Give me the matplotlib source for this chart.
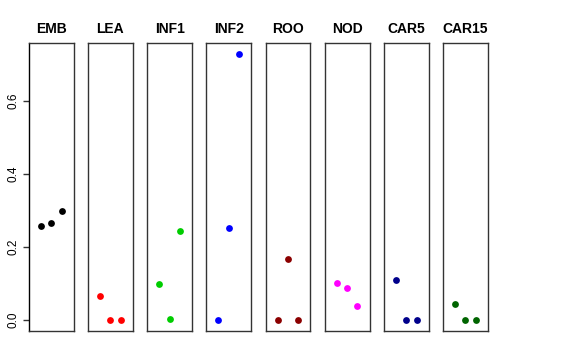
import matplotlib
matplotlib.use("Agg")
import matplotlib.pyplot as plt

plt.rcParams['font.family'] = ['Liberation Sans', 'DejaVu Sans']

tissues = ['EMB', 'LEA', 'INF1', 'INF2', 'ROO', 'NOD', 'CAR5', 'CAR15']
colors = ['black', 'red', '#00CD00', 'blue', '#8B0000', 'magenta', '#00008B', '#006400']
x_pos = [1, 2, 3]

emb = [0.258, 0.265, 0.299]
lea = [0.067, 0.0, 0.0]
inf1 = [0.098, 0.003, 0.243]
inf2 = [0.0, 0.253, 0.729]
roo = [0.0, 0.168, 0.0]
nod = [0.102, 0.088, 0.040]
car5 = [0.111, 0.0, 0.0]
car15 = [0.045, 0.0, 0.0]

values = [emb, lea, inf1, inf2, roo, nod, car5, car15]

fig, axes = plt.subplots(1, 8, figsize=(5.76, 3.6), dpi=100)
fig.subplots_adjust(left=0.050, right=0.847, top=0.881, bottom=0.081, wspace=0.32)

ymax = max(max(v) for v in values)
pad = 0.04 * ymax

for i, ax in enumerate(axes):
    ax.scatter(x_pos, values[i], s=24, color=colors[i], zorder=3, linewidths=0)
    ax.set_xlim(-0.16, 4.16)
    ax.set_ylim(-pad, ymax + pad)
    ax.set_xticks([])
    ax.set_title(tissues[i], fontsize=10, fontweight='bold', pad=7)
    for s in ax.spines.values():
        s.set_color('#333333')
        s.set_linewidth(1.0)
    if i == 0:
        ax.set_yticks([0.0, 0.2, 0.4, 0.6])
        ax.set_yticklabels(['0.0', '0.2', '0.4', '0.6'], rotation=90, va='center', fontsize=8.5)
        ax.tick_params(axis='y', length=4, width=1, color='#333333', pad=3)
        ax.spines['left'].set_color('black')
    else:
        ax.set_yticks([])

fig.savefig('out.png', dpi=100)
